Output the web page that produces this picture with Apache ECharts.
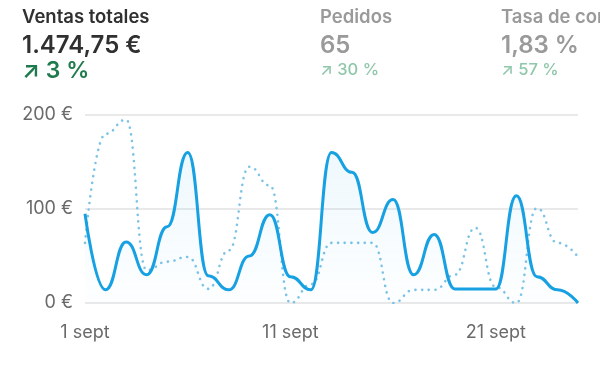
<!DOCTYPE html>
<html><head><meta charset="utf-8">
<script src="https://cdn.jsdelivr.net/npm/echarts@6/dist/echarts.min.js"></script>
<style>html,body{margin:0;padding:0;background:#fff}#c{width:600px;height:366px}</style>
</head><body><div id="c"></div>
<script>
const categories = ["1 sept","2 sept","3 sept","4 sept","5 sept","6 sept","7 sept","8 sept","9 sept","10 sept","11 sept","12 sept","13 sept","14 sept","15 sept","16 sept","17 sept","18 sept","19 sept","20 sept","21 sept","22 sept","23 sept","24 sept","25 sept"];
const currentSales = [95,14,65,30,81,160,29,14,50,94,28,14,160,139,75,110,30,73,15,15,15,114,28,14,0];
const previousSales = [64,180,195,35,44,49,15,56,145,125,0,20,64,64,64,0,14,14,30,80,17,0,101,64,49];
const yTicks = [0,100,200];
const kpis = [
  {label:"Ventas totales", value:"1.474,75 €", change:"↗ 3 %"},
  {label:"Pedidos", value:"65", change:"↗ 30 %"},
  {label:"Tasa de conversión", value:"1,83 %", change:"↗ 57 %"}
];
const font = "Inter, 'Noto Sans', sans-serif";
const chart = echarts.init(document.getElementById('c'));
const kx = [22, 320, 501];
const graphics = [];
kpis.forEach((k,i)=>{
  const active = i===0;
  graphics.push({type:'text', left:kx[i], top:8, style:{text:k.label, font:`600 18.5px ${font}`, fill: active?'#303030':'#9a9a9a'}});
  graphics.push({type:'text', left:kx[i], top:34, style:{text:k.value, font:`600 24px ${font}`, fill: active?'#303030':'#9a9a9a'}});
  graphics.push({type:'text', left:kx[i], top: active?60:62, style:{text:k.change, font: active?`600 23px ${font}`:`500 16.5px ${font}`, fill: active?'#1f7a4e':'#8fc7aa'}});
});
chart.setOption({
  animation:false,
  graphic: graphics,
  grid:{left:85, right:22, top:115, bottom:63},
  xAxis:{type:'category', data:categories, boundaryGap:false,
    axisLine:{show:false}, axisTick:{show:false},
    axisLabel:{interval:9, color:'#6a6a6a', fontSize:18, fontFamily:font, margin:21}},
  yAxis:{type:'value', min:yTicks[0], max:yTicks[yTicks.length-1], interval:100,
    axisLabel:{formatter:v=>v+' €', color:'#6a6a6a', fontSize:18, fontFamily:font, margin:12},
    splitLine:{lineStyle:{color:'#e2e2e2', width:1.5}}},
  series:[
    {type:'line', data:previousSales, smooth:0.5, smoothMonotone:'x', symbol:'none',
      lineStyle:{color:'#7cc3e6', width:2.6, type:[0.1,6.6], cap:'round'}, z:2},
    {type:'line', data:currentSales, smooth:0.5, smoothMonotone:'x', symbol:'none',
      lineStyle:{color:'#17a1e2', width:3}, z:3,
      areaStyle:{color:new echarts.graphic.LinearGradient(0,0,0,1,[{offset:0,color:'rgba(23,161,226,0.10)'},{offset:1,color:'rgba(23,161,226,0.01)'}])}}
  ]
});
</script></body></html>
